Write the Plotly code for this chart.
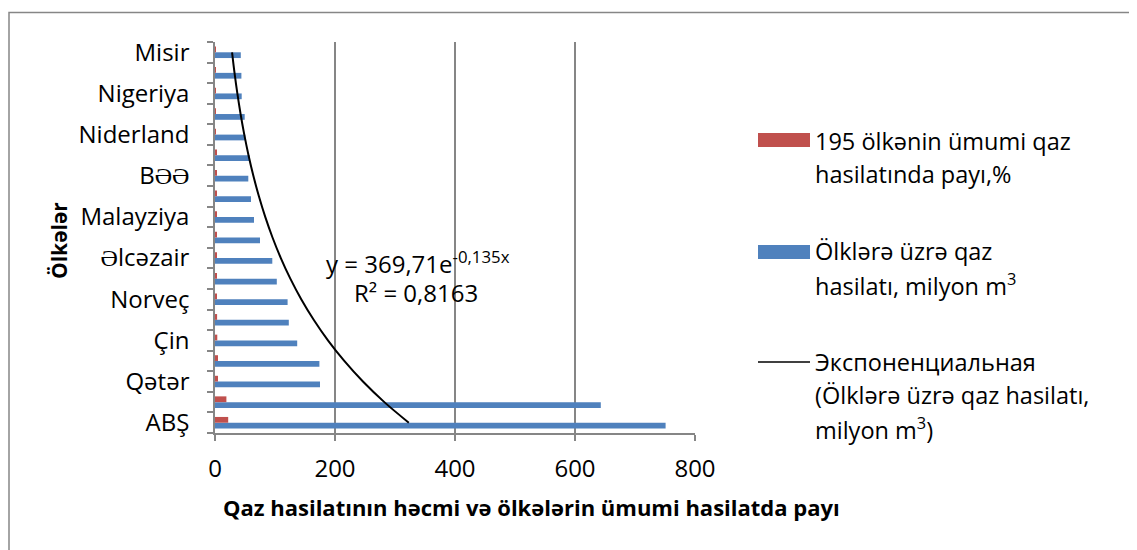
import math
import plotly.graph_objects as go

# ---- data (bottom -> top) ----
countries = ["ABŞ", "Rusiya", "Qətər", "İran", "Çin", "Kanada", "Norveç",
             "Səudiyyə Ərəbistanı", "Əlcəzair", "İndoneziya", "Malayziya",
             "Türkmənistan", "BƏƏ", "Meksika", "Niderland", "Özbəkistan",
             "Nigeriya", "Argentina", "Misir"]
production = [751, 643, 175, 174, 137, 123, 121, 103, 95.5, 75, 65, 60,
              55.5, 58, 50.5, 49.5, 44.5, 44, 43]
share_pct = [22, 19, 5, 5, 3.8, 3.5, 3.3, 3, 2.5, 2.2, 2, 1.8, 1.7, 1.7,
             1.5, 1.5, 1.3, 1.3, 1.3]
shown_labels = ["ABŞ", "Qətər", "Çin", "Norveç", "Əlcəzair", "Malayziya",
                "BƏƏ", "Niderland", "Nigeriya", "Misir"]
x_ticks = [0, 200, 400, 600, 800]
trend_a = 369.71
trend_b = -0.135
r2_text = "0,8163"

name_share = "195 ölkənin ümumi qaz hasilatında payı,%"
name_prod = "Ölklərə üzrə qaz hasilatı, milyon m³"
name_trend = "Экспоненциальная (Ölklərə üzrə qaz hasilatı, milyon m³)"

BLUE = "#4F81BD"
RED = "#C0504D"
GRID = "#868686"
FONT = "Open Sans"

W, H = 1137, 550
OFF = 8  # default page body margin shifts the figure by this much
# plot area in reference pixel coordinates
PX0, PX1, PY0, PY1 = 215, 695, 42, 433
L, T = PX0 - OFF, PY0 - OFF
PW, PH = PX1 - PX0, PY1 - PY0
R, B = W - L - PW, H - T - PH


def px(x):
    return (x - PX0) / PW


def py(y):
    return (PY1 - y) / PH


trend_x = [trend_a * math.exp(trend_b * (i + 1)) for i in range(len(countries))]

fig = go.Figure()
fig.add_trace(go.Bar(y=countries, x=production, orientation="h", name=name_prod,
                     marker=dict(color=BLUE, line=dict(width=0))))
fig.add_trace(go.Bar(y=countries, x=share_pct, orientation="h", name=name_share,
                     marker=dict(color=RED, line=dict(width=0))))
fig.add_trace(go.Scatter(y=countries, x=trend_x, mode="lines", name=name_trend,
                         line=dict(color="black", width=2, shape="spline")))

ticktext = [c if c in shown_labels else "" for c in countries]

fig.update_layout(
    width=W, height=H,
    margin=dict(l=L, r=R, t=T, b=B, autoexpand=False),
    paper_bgcolor="white", plot_bgcolor="white",
    barmode="group", bargap=0.44, bargroupgap=0,
    showlegend=False,
    font=dict(family=FONT, size=24, color="black"),
    xaxis=dict(range=[0, 800], tickvals=x_ticks, showgrid=True, automargin=False,
               gridcolor=GRID, gridwidth=1.5, zeroline=False,
               showline=True, linecolor=GRID, linewidth=1.5,
               ticks="outside", ticklen=6, tickcolor=GRID, tickwidth=1.5,
               ticklabelstandoff=7,
               tickfont=dict(family=FONT, size=24, color="black")),
    yaxis=dict(type="category", categoryorder="array", categoryarray=countries,
               range=[-0.5, len(countries) - 0.5],
               tickvals=countries, ticktext=ticktext, tickson="boundaries",
               automargin=False,
               showgrid=False, zeroline=False, showline=True, linecolor=GRID,
               linewidth=1.5, ticks="outside", ticklen=6, tickcolor=GRID,
               tickwidth=1.5, ticklabelstandoff=19,
               tickfont=dict(family=FONT, size=24, color="black")),
)

shapes = []
# outer chart border (left and top visible)
shapes.append(dict(type="rect", xref="paper", yref="paper",
                   x0=px(9), x1=px(1160), y0=py(580), y1=py(12.5),
                   line=dict(color=GRID, width=1.5), fillcolor="rgba(0,0,0,0)"))
# legend swatches
shapes.append(dict(type="rect", xref="paper", yref="paper",
                   x0=px(758), x1=px(810), y0=py(147), y1=py(133),
                   line=dict(width=0), fillcolor=RED))
shapes.append(dict(type="rect", xref="paper", yref="paper",
                   x0=px(758), x1=px(810), y0=py(259), y1=py(245),
                   line=dict(width=0), fillcolor=BLUE))
shapes.append(dict(type="line", xref="paper", yref="paper",
                   x0=px(758), x1=px(810), y0=py(362), y1=py(362),
                   line=dict(color="black", width=1.5)))
fig.update_layout(shapes=shapes)

ann = []


def text(x, y, s, size=24, bold=False, xanchor="left", angle=0):
    ann.append(dict(xref="paper", yref="paper", x=px(x), y=py(y), text=s,
                    showarrow=False, xanchor=xanchor, yanchor="middle",
                    textangle=angle,
                    font=dict(family=FONT, size=size, color="black",
                              weight="bold" if bold else "normal")))


LS = 23.5
# legend texts
text(813, 141, "195 ölkənin ümumi qaz", LS)
text(813, 174, "hasilatında payı,%", LS)
text(813, 251, "Ölklərə üzrə qaz", LS)
text(813, 284, "hasilatı, milyon m<sup>3</sup>", LS)
text(813, 362, "Экспоненциальная", LS)
text(813, 395, "(Ölklərə üzrə qaz hasilatı,", LS)
text(813, 428, "milyon m<sup>3</sup>)", LS)

# trendline equation
text(418, 262, "y = 369,71e<sup>-0,135x</sup>", 24, xanchor="center")
text(416, 292, "R² = " + r2_text, 24, xanchor="center")

# axis titles
text(531, 507, "Qaz hasilatının həcmi və ölkələrin ümumi hasilatda payı", 22,
     bold=True, xanchor="center")
text(59, 241, "Ölkələr", 21, bold=True, xanchor="center", angle=-90)

fig.update_layout(annotations=ann)

fig.write_html("out.html")
